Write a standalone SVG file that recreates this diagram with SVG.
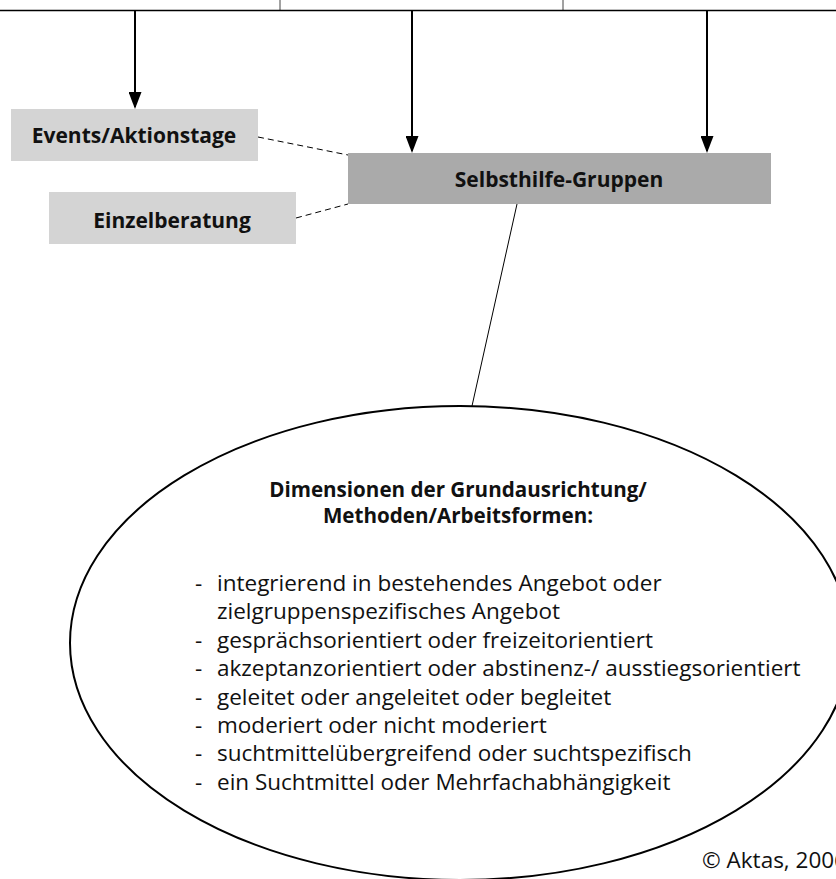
<svg xmlns="http://www.w3.org/2000/svg" width="836" height="879" viewBox="0 0 836 879">
<style>
.b{font-family:"Open Sans","Noto Sans",sans-serif;font-weight:bold;font-size:21px;fill:#111;text-anchor:middle}
.r{font-family:"Open Sans","Noto Sans",sans-serif;font-size:22.5px;fill:#111}
.arrow{stroke:#000;stroke-width:2;fill:none}
.dash{stroke:#000;stroke-width:1;stroke-dasharray:6 4;fill:none}
</style>
<defs>
<marker id="ah" markerUnits="userSpaceOnUse" markerWidth="17" markerHeight="13" refX="15" refY="6.5" orient="auto">
<path d="M0,0 L17,6.5 L0,13 z" fill="#000"/>
</marker>
</defs>
<rect width="836" height="879" fill="#fff"/>
<g id="top-bar">
<line x1="280" y1="0" x2="280" y2="10" stroke="#444" stroke-width="1"/>
<line x1="563" y1="0" x2="563" y2="10" stroke="#444" stroke-width="1"/>
<line x1="0" y1="10.5" x2="836" y2="10.5" stroke="#000" stroke-width="1.5"/>
</g>
<g id="connectors">
<line class="arrow" x1="135" y1="10" x2="135" y2="107" marker-end="url(#ah)"/>
<line class="arrow" x1="412" y1="10" x2="412" y2="151" marker-end="url(#ah)"/>
<line class="arrow" x1="707" y1="10" x2="707" y2="151" marker-end="url(#ah)"/>
<line class="dash" x1="258" y1="137" x2="348" y2="155"/>
<line class="dash" x1="296" y1="218" x2="348" y2="204"/>
<line x1="517" y1="204" x2="472" y2="406" stroke="#000" stroke-width="1"/>
</g>
<g id="events">
<rect x="11" y="109" width="247" height="52" fill="#d4d4d4"/>
<text class="b" x="134" y="143">Events/Aktionstage</text>
</g>
<g id="einzelberatung">
<rect x="49" y="192" width="247" height="52" fill="#d4d4d4"/>
<text class="b" x="172" y="228">Einzelberatung</text>
</g>
<g id="selbsthilfe">
<rect x="348" y="153" width="423" height="51" fill="#aaaaaa"/>
<text class="b" x="559" y="187">Selbsthilfe-Gruppen</text>
</g>
<g id="dimensionen">
<ellipse cx="460" cy="643" rx="390" ry="237" fill="none" stroke="#000" stroke-width="2"/>
<text class="b" style="font-size:20.6px" x="458" y="497">Dimensionen der Grundausrichtung/</text>
<text class="b" style="font-size:20.6px" x="458" y="523">Methoden/Arbeitsformen:</text>
<g class="r">
<text x="195" y="591">-</text><text x="217" y="591">integrierend in bestehendes Angebot oder</text>
<text x="217" y="619.4">zielgruppenspezifisches Angebot</text>
<text x="195" y="647.8">-</text><text x="217" y="647.8">gesprächsorientiert oder freizeitorientiert</text>
<text x="195" y="676.2">-</text><text x="217" y="676.2">akzeptanzorientiert oder abstinenz-/ ausstiegsorientiert</text>
<text x="195" y="704.6">-</text><text x="217" y="704.6">geleitet oder angeleitet oder begleitet</text>
<text x="195" y="733">-</text><text x="217" y="733">moderiert oder nicht moderiert</text>
<text x="195" y="761.4">-</text><text x="217" y="761.4">suchtmittelübergreifend oder suchtspezifisch</text>
<text x="195" y="789.8">-</text><text x="217" y="789.8">ein Suchtmittel oder Mehrfachabhängigkeit</text>
</g>
</g>
<g id="copyright">
<text class="r" x="702" y="868">© Aktas, 2006</text>
</g>
</svg>
